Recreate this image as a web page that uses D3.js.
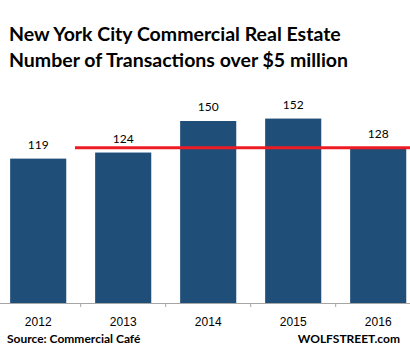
<!DOCTYPE html>
<html>
<head>
<meta charset="utf-8">
<script src="https://cdn.jsdelivr.net/npm/d3@7"></script>
<style>
  body { margin: 0; background: #fff; }
  svg { display: block; font-family: Lato, "Open Sans", sans-serif; }
</style>
</head>
<body>
<div id="chart"></div>
<script>
// chart data
const years = ["2012", "2013", "2014", "2015", "2016"];
const transactions = [119, 124, 150, 152, 128];
const refLevel = 128; // red line drawn at the 2016 level
const titleLines = ["New York City Commercial Real Estate", "Number of Transactions over $5 million"];

const width = 410, height = 358;

const svg = d3.select("#chart").append("svg")
    .attr("width", width)
    .attr("height", height);

// x band scale - plot runs a little past the right edge (image was cropped)
let x = d3.scaleBand()
    .domain(years)
    .range([-4.3, 420.7])
    .paddingInner(0.34)
    .paddingOuter(0.17);

let y = d3.scaleLinear()
    .domain([0, 150])
    .range([303, 121]);

// title
svg.selectAll(".title")
    .data(titleLines)
    .enter()
    .append("text")
    .attr("x", 9)
    .attr("y", (d, i) => 41 + i * 26)
    .style("font-size", "19.5px")
    .style("font-weight", "bold")
    .attr("fill", "#000")
    .text(d => d);

// bars
svg.selectAll(".bar")
    .data(transactions)
    .enter()
    .append("rect")
    .attr("fill", "#1F4E79")
    .attr("x", (d, i) => x(years[i]))
    .attr("width", x.bandwidth())
    .attr("y", d => y(d))
    .attr("height", d => y(0) - y(d));

// value labels
svg.selectAll(".lbl")
    .data(transactions)
    .enter()
    .append("text")
    .attr("x", (d, i) => x(years[i]) + x.bandwidth() / 2)
    .attr("y", d => y(d) - 10)
    .attr("text-anchor", "middle")
    .style("font-size", "12px")
    .attr("fill", "#000")
    .text(d => d);

// red reference line
svg.append("line")
    .attr("x1", 75)
    .attr("x2", width)
    .attr("y1", y(refLevel))
    .attr("y2", y(refLevel))
    .attr("stroke", "#ED1C24")
    .attr("stroke-width", 3);

// x axis
const axis = svg.append("g")
    .attr("transform", "translate(0," + y(0) + ")")
    .call(d3.axisBottom(x).tickSize(0).tickPadding(14));
axis.select(".domain").attr("stroke", "#A6A6A6").attr("d", "M-4.3,0.5H420.7");
axis.selectAll("text").style("font-size", "12px").style("font-family", "inherit").attr("fill", "#000");

// tick marks between categories
svg.selectAll(".sep")
    .data(years.slice(1))
    .enter()
    .append("line")
    .attr("x1", d => x(d) - x.step() * x.paddingInner() / 2)
    .attr("x2", d => x(d) - x.step() * x.paddingInner() / 2)
    .attr("y1", y(0))
    .attr("y2", y(0) + 4)
    .attr("stroke", "#A6A6A6");

// footer
svg.append("text")
    .attr("x", 7)
    .attr("y", 343)
    .style("font-size", "12px")
    .style("font-weight", "bold")
    .text("Source: Commercial Café");

svg.append("text")
    .attr("x", 400)
    .attr("y", 343)
    .attr("text-anchor", "end")
    .style("font-size", "12px")
    .style("font-weight", "bold")
    .text("WOLFSTREET.com");
</script>
</body>
</html>
